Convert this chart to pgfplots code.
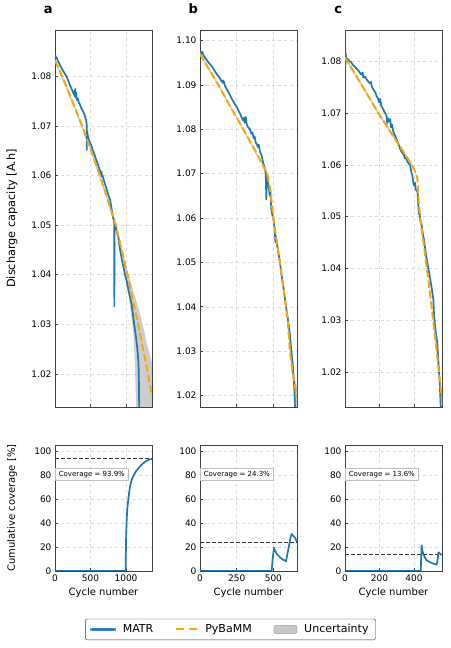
\documentclass[border=0pt]{standalone}
\usepackage{pgfplots}
\pgfplotsset{compat=1.18}
\usepackage{fontspec}
\setmainfont{DejaVu Sans}
\definecolor{matr}{HTML}{1F77B4}
\definecolor{pyb}{HTML}{FFA500}
\definecolor{unc}{HTML}{C8C8C8}
\tikzset{
  blue line/.style={matr, line width=1.7pt, line join=round},
  orange line/.style={pyb, line width=2pt, dash pattern=on 7.4pt off 3.2pt},
  band/.style={fill=unc, draw=none, fill opacity=0.9},
  covline/.style={black!80, line width=0.9pt, dash pattern=on 4pt off 2pt},
  covbox/.style={draw=gray!50, fill=white, anchor=west, inner xsep=3.5pt, inner ysep=2.5pt, line width=0.6pt, font=\fontsize{7}{8}\selectfont},
}
\pgfplotsset{
  base/.style={scale only axis, width=97pt,
    axis line style={draw=black!75, line width=0.8pt},
    tick align=inside, xtick pos=bottom, ytick pos=left,
    major tick length=3pt, tick style={black!75, line width=0.6pt},
    grid=major, major grid style={dashed, gray!30, line width=0.5pt},
    tick label style={font=\fontsize{9}{10}\selectfont},
    /pgf/number format/assume math mode=true,
    /pgf/number format/1000 sep={},
    title style={at={(rel axis cs:-0.07,1)}, anchor=base, yshift=10pt, font=\bfseries\fontsize{13}{15}\selectfont},
    xlabel style={at={(rel axis cs:0.5,0)}, anchor=center, yshift=-22pt, font=\fontsize{10}{12}\selectfont},
  },
  top/.style={base, height=377pt, xticklabels={},
    yticklabel style={/pgf/number format/.cd, fixed, fixed zerofill, precision=2, /tikz/.cd},
    ylabel style={at={(rel axis cs:0,0.5)}, yshift=43pt, anchor=center, font=\fontsize{11.3}{13}\selectfont}},
  bot/.style={base, height=126pt, ymin=0, ymax=105.5, ytick={0,20,40,60,80,100}, xlabel={Cycle number},
    ylabel style={at={(rel axis cs:0,0.5)}, yshift=43pt, anchor=center, font=\fontsize{10}{12}\selectfont}},
  matrleg/.style={legend image code/.code={\fill[matr] (0pt,-1.1pt) rectangle (25pt,1.1pt);}},
  pybleg/.style={legend image code/.code={\draw[pyb, line width=2pt, dash pattern=on 8pt off 5pt] (0pt,0pt) -- (21pt,0pt);}},
  legpatch/.style={legend image code/.code={\fill[unc] (0pt,-3.9pt) rectangle (23pt,3.9pt); \draw[gray!70, line width=0.5pt] (0pt,-3.9pt) rectangle (23pt,3.9pt);}},
}
\begin{document}
\begin{tikzpicture}
\useasboundingbox (0,0) rectangle (450pt,648pt);

% ---------- a top ----------
\begin{axis}[top, at={(55pt,241pt)}, anchor=south west, title={a},
  xmin=0, xmax=1366, ymin=1.0133, ymax=1.0894,
  xtick={0,500,1000}, ytick={1.02,1.03,1.04,1.05,1.06,1.07,1.08},
  ylabel={Discharge capacity [A.h]}]
\addplot[band] coordinates {
(0,1.0836) (250,1.0752) (510,1.0655) (745,1.0555) (900,1.0478) (950,1.0450) (1000,1.0420) (1050,1.0393) (1100,1.0368) (1150,1.0345) (1200,1.0320) (1250,1.0290) (1300,1.0258) (1366,1.0222)
(1366,1.0050) (1150,1.0050) (1145,1.0120) (1135,1.0170) (1120,1.0240) (1103,1.0283) (1080,1.0310) (1046,1.0349) (1020,1.0372) (980,1.0410) (950,1.0440) (900,1.0472) (745,1.0545) (510,1.0645) (250,1.0744) (0,1.0828)} -- cycle;
\addplot[blue line] coordinates {
(0,1.0844) (10,1.0840) (25,1.0838) (40,1.0832) (55,1.0828) (70,1.0823) (85,1.0819) (100,1.0815) (115,1.0811) (130,1.0808) (145,1.0804) (164,1.0800) (180,1.0794) (195,1.0789) (210,1.0783) (225,1.0778) (240,1.0773) (255,1.0768) (265,1.0764) (272,1.0770) (278,1.0760) (284,1.0775) (290,1.0758) (298,1.0768) (305,1.0754) (315,1.0752) (325,1.0756) (335,1.0747) (350,1.0744) (365,1.0738) (380,1.0734) (395,1.0730) (410,1.0725) (425,1.0719) (438,1.0712) (446,1.0704) (448,1.0652) (450,1.0690) (460,1.0682) (470,1.0677) (483,1.0669) (500,1.0665) (515,1.0660) (530,1.0652) (545,1.0647) (560,1.0641) (575,1.0634) (590,1.0629) (605,1.0622) (620,1.0616) (635,1.0610) (648,1.0603) (655,1.0608) (662,1.0598) (670,1.0600) (685,1.0592) (700,1.0585) (715,1.0578) (730,1.0571) (745,1.0564) (760,1.0557) (775,1.0552) (790,1.0540) (800,1.0530) (810,1.0522) (820,1.0514) (828,1.0508) (834,1.0512) (836,1.0336) (838,1.0505) (845,1.0500) (852,1.0503) (860,1.0494) (870,1.0488) (880,1.0480) (891,1.0477) (900,1.0466) (915,1.0452) (930,1.0440) (945,1.0428) (960,1.0418) (975,1.0408) (985,1.0400) (1009,1.0388) (1040,1.0365) (1080,1.0340) (1115,1.0300) (1140,1.0275) (1160,1.0250) (1173,1.0228) (1180,1.0205) (1184,1.0150) (1187,1.0100)};
\addplot[orange line] coordinates {
(0,1.0832) (105,1.0800) (250,1.0748) (385,1.0700) (510,1.0650) (634,1.0600) (745,1.0550) (855,1.0500) (940,1.0450) (1020,1.0400) (1095,1.0350) (1170,1.0300) (1240,1.0250) (1310,1.0200) (1366,1.0155)};
\end{axis}

% ---------- b top ----------
\begin{axis}[top, at={(200pt,241pt)}, anchor=south west, title={b},
  xmin=0, xmax=661, ymin=1.0174, ymax=1.1024,
  xtick={0,250,500}, ytick={1.02,1.03,1.04,1.05,1.06,1.07,1.08,1.09,1.10}]
\addplot[band] coordinates {
(0,1.0973) (125,1.0903) (295,1.0803) (458,1.0703) (500,1.0604) (545,1.0505) (586,1.0406) (613,1.0308) (630,1.0266) (645,1.0240) (661,1.0218)
(661,1.0160) (645,1.0195) (630,1.0244) (613,1.0292) (586,1.0394) (545,1.0495) (500,1.0596) (458,1.0697) (295,1.0797) (125,1.0897) (0,1.0967)} -- cycle;
\addplot[blue line] coordinates {
(0,1.0975) (5,1.0974) (10,1.0970) (15,1.0975) (25,1.0966) (40,1.0959) (55,1.0952) (70,1.0946) (85,1.0940) (100,1.0932) (115,1.0924) (130,1.0918) (145,1.0910) (155,1.0905) (160,1.0910) (170,1.0898) (185,1.0889) (200,1.0880) (215,1.0870) (230,1.0861) (245,1.0853) (255,1.0848) (265,1.0840) (275,1.0834) (285,1.0826) (295,1.0820) (300,1.0826) (305,1.0815) (312,1.0828) (318,1.0812) (325,1.0806) (340,1.0800) (350,1.0790) (358,1.0793) (365,1.0780) (372,1.0784) (380,1.0770) (388,1.0766) (395,1.0760) (400,1.0766) (408,1.0750) (415,1.0745) (422,1.0738) (430,1.0725) (437,1.0718) (443,1.0710) (448,1.0700) (452,1.0642) (455,1.0695) (462,1.0680) (470,1.0665) (476,1.0650) (480,1.0660) (486,1.0620) (492,1.0608) (499,1.0600) (505,1.0585) (510,1.0570) (514,1.0545) (516,1.0560) (520,1.0550) (527,1.0536) (535,1.0520) (545,1.0500) (556,1.0470) (570,1.0440) (586,1.0400) (600,1.0370) (612,1.0340) (620,1.0310) (632,1.0270) (642,1.0220) (646,1.0190) (648,1.0160)};
\addplot[orange line] coordinates {
(0,1.0970) (125,1.0900) (204,1.0853) (295,1.0800) (380,1.0750) (458,1.0700) (480,1.0660) (500,1.0600) (522,1.0550) (545,1.0500) (566,1.0450) (586,1.0400) (600,1.0360) (613,1.0300) (630,1.0255) (645,1.0225) (661,1.0195)};
\end{axis}

% ---------- c top ----------
\begin{axis}[top, at={(345pt,241pt)}, anchor=south west, title={c},
  xmin=0, xmax=562, ymin=1.0133, ymax=1.086,
  xtick={0,200,400}, ytick={1.02,1.03,1.04,1.05,1.06,1.07,1.08}]
\addplot[band] coordinates {
(0,1.0810) (100,1.0755) (193,1.0703) (290,1.0653) (387,1.0603) (419,1.0578) (435,1.0504) (474,1.0405) (503,1.0328) (532,1.0244) (551,1.0186) (562,1.0154)
(562,1.0136) (551,1.0172) (532,1.0232) (503,1.0318) (474,1.0395) (435,1.0496) (419,1.0572) (387,1.0597) (290,1.0647) (193,1.0697) (100,1.0749) (0,1.0804)} -- cycle;
\addplot[blue line] coordinates {
(0,1.0813) (2,1.0790) (4,1.0815) (8,1.0802) (15,1.0804) (25,1.0800) (35,1.0798) (45,1.0793) (55,1.0790) (65,1.0786) (75,1.0783) (85,1.0778) (95,1.0774) (102,1.0778) (106,1.0768) (115,1.0770) (125,1.0765) (135,1.0760) (145,1.0757) (150,1.0760) (156,1.0750) (165,1.0745) (175,1.0740) (184,1.0732) (192,1.0728) (198,1.0720) (204,1.0727) (210,1.0714) (220,1.0708) (232,1.0700) (240,1.0695) (245,1.0680) (248,1.0690) (255,1.0684) (262,1.0688) (266,1.0672) (272,1.0678) (280,1.0664) (290,1.0656) (300,1.0648) (310,1.0640) (320,1.0630) (330,1.0624) (340,1.0620) (348,1.0612) (355,1.0614) (362,1.0606) (370,1.0602) (377,1.0600) (385,1.0585) (390,1.0580) (395,1.0568) (400,1.0560) (406,1.0565) (410,1.0552) (416,1.0550) (420,1.0548) (424,1.0525) (428,1.0505) (432,1.0510) (436,1.0492) (441,1.0490) (450,1.0470) (460,1.0450) (470,1.0425) (483,1.0400) (495,1.0378) (505,1.0356) (512,1.0340) (516,1.0310) (525,1.0280) (535,1.0255) (545,1.0200) (550,1.0170) (555,1.0130)};
\addplot[orange line] coordinates {
(0,1.0807) (14,1.0800) (100,1.0752) (193,1.0700) (290,1.0650) (387,1.0600) (405,1.0588) (419,1.0575) (427,1.0530) (435,1.0500) (455,1.0450) (474,1.0400) (490,1.0360) (503,1.0323) (518,1.0280) (532,1.0238) (551,1.0179) (562,1.0145)};
\end{axis}

% ---------- a bottom ----------
\begin{axis}[bot, at={(55pt,77pt)}, anchor=south west,
  xmin=0, xmax=1366, xtick={0,500,1000},
  ylabel={Cumulative coverage [\%]}]
\addplot[covline] coordinates {(0,93.9) (1366,93.9)};
\addplot[blue line] coordinates {(0,0) (995,0) (998,15) (1002,30) (1009,42) (1018,52) (1032,60) (1045,66) (1056,70.6) (1075,75.5) (1103,79.5) (1135,83) (1173,86) (1220,89) (1267,91.4) (1310,92.8) (1361,93.8)};
\node[covbox] at (rel axis cs:0,0.766) {Coverage = 93.9\%};
\end{axis}

% ---------- b bottom ----------
\begin{axis}[bot, at={(200pt,77pt)}, anchor=south west,
  xmin=0, xmax=661, xtick={0,250,500},
  legend columns=3,
  legend style={at={(rel axis cs:0.314,-0.464)}, anchor=center, draw=black!80, rounded corners=2pt,
    font=\fontsize{11}{13}\selectfont, inner xsep=5pt, inner ysep=3.5pt,
    /tikz/every odd column/.append style={column sep=5pt},
    /tikz/every even column/.append style={column sep=20pt}}]
\addlegendimage{matrleg}
\addlegendentry{MATR}
\addlegendimage{pybleg}
\addlegendentry{PyBaMM}
\addlegendimage{legpatch}
\addlegendentry{Uncertainty}
\addplot[covline, forget plot] coordinates {(0,24.3) (661,24.3)};
\addplot[blue line, forget plot] coordinates {(0,0) (488,0) (495,10) (504,19.5) (512,17) (525,14) (545,11.5) (565,9.5) (579,8.8) (586,8) (595,14) (605,20) (615,27) (624,31) (635,29.5) (647,28) (661,24.5)};
\node[covbox] at (rel axis cs:0,0.766) {Coverage = 24.3\%};
\end{axis}

% ---------- c bottom ----------
\begin{axis}[bot, at={(345pt,77pt)}, anchor=south west,
  xmin=0, xmax=562, xtick={0,200,400}]
\addplot[covline] coordinates {(0,13.6) (562,13.6)};
\addplot[blue line] coordinates {(0,0) (439,0) (441,10) (444,21.5) (450,16) (460,12) (473,9) (490,7.5) (512,6.2) (531,5.3) (536,9) (541,15.5) (548,15) (555,14) (562,13.6)};
\node[covbox] at (rel axis cs:0,0.766) {Coverage = 13.6\%};
\end{axis}
\end{tikzpicture}
\end{document}
